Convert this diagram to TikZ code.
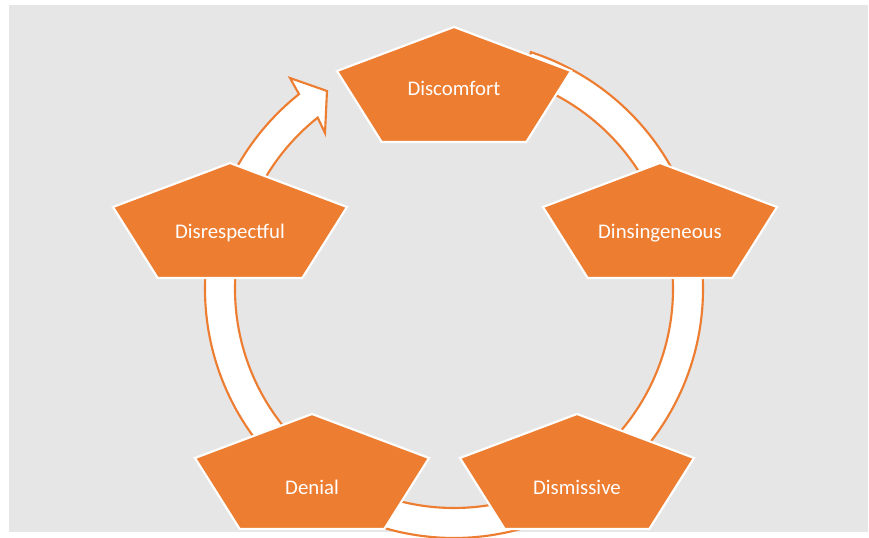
\documentclass[tikz,border=0pt]{standalone}
\usepackage{fontspec}
\setmainfont{Carlito}
\usepackage{tikz}

\definecolor{cycleorange}{HTML}{ED7D31}
\definecolor{panelgray}{HTML}{E7E6E6}

\begin{document}
\begin{tikzpicture}[x=0.75pt,y=-0.75pt,
  pent/.style={fill=cycleorange,draw=white,line width=1.6pt},
  band/.style={fill=white,draw=cycleorange,line width=1.6pt},
  pentext/.style={text=white,font=\fontsize{15.6}{18}\selectfont}]

\useasboundingbox (0,0) rectangle (869,538);
\fill[panelgray] (9,5) rectangle (868,532);

% --- Ring segments (under the pentagons, which hide their ends) ---
\coordinate (hub) at (454,289);
\foreach \a/\b in {-72/-25,-10/48,72/112,135/185} {
  \draw[band] ([shift={(hub)}]\a:249) arc[start angle=\a,end angle=\b,radius=249]
    -- ([shift={(hub)}]\b:219) arc[start angle=\b,end angle=\a,radius=219] -- cycle;
}

% Last segment closes the cycle with an arrow head
\coordinate (barbout) at (290,78);
\coordinate (headtip) at (327,91);
\coordinate (barbin) at (325,133);
\draw[band] ([shift={(hub)}]-158:249) arc[start angle=-158,end angle=-128.5,radius=249]
  -- (barbout) -- (headtip) -- (barbin)
  -- ([shift={(hub)}]-128.5:219) arc[start angle=-128.5,end angle=-158,radius=219] -- cycle;

% --- Pentagons (top vertex given) ---
\foreach \x/\y in {454/27,230/163,660/163,312/414,577/414}
  \draw[pent] (\x,\y) -- ++(117,44) -- ++(-44.7,71) -- ++(-144.6,0) -- ++(-44.7,-71) -- cycle;

% Labels
\node[pentext] (discomfort) at (454,88) {Discomfort};
\node[pentext] (dinsingeneous) at (660,233) {Dinsingeneous};
\node[pentext] (dismissive) at (577,487) {Dismissive};
\node[pentext] (denial) at (312,487) {Denial};
\node[pentext] (disrespectful) at (230,233) {Disrespectful};

\end{tikzpicture}
\end{document}
